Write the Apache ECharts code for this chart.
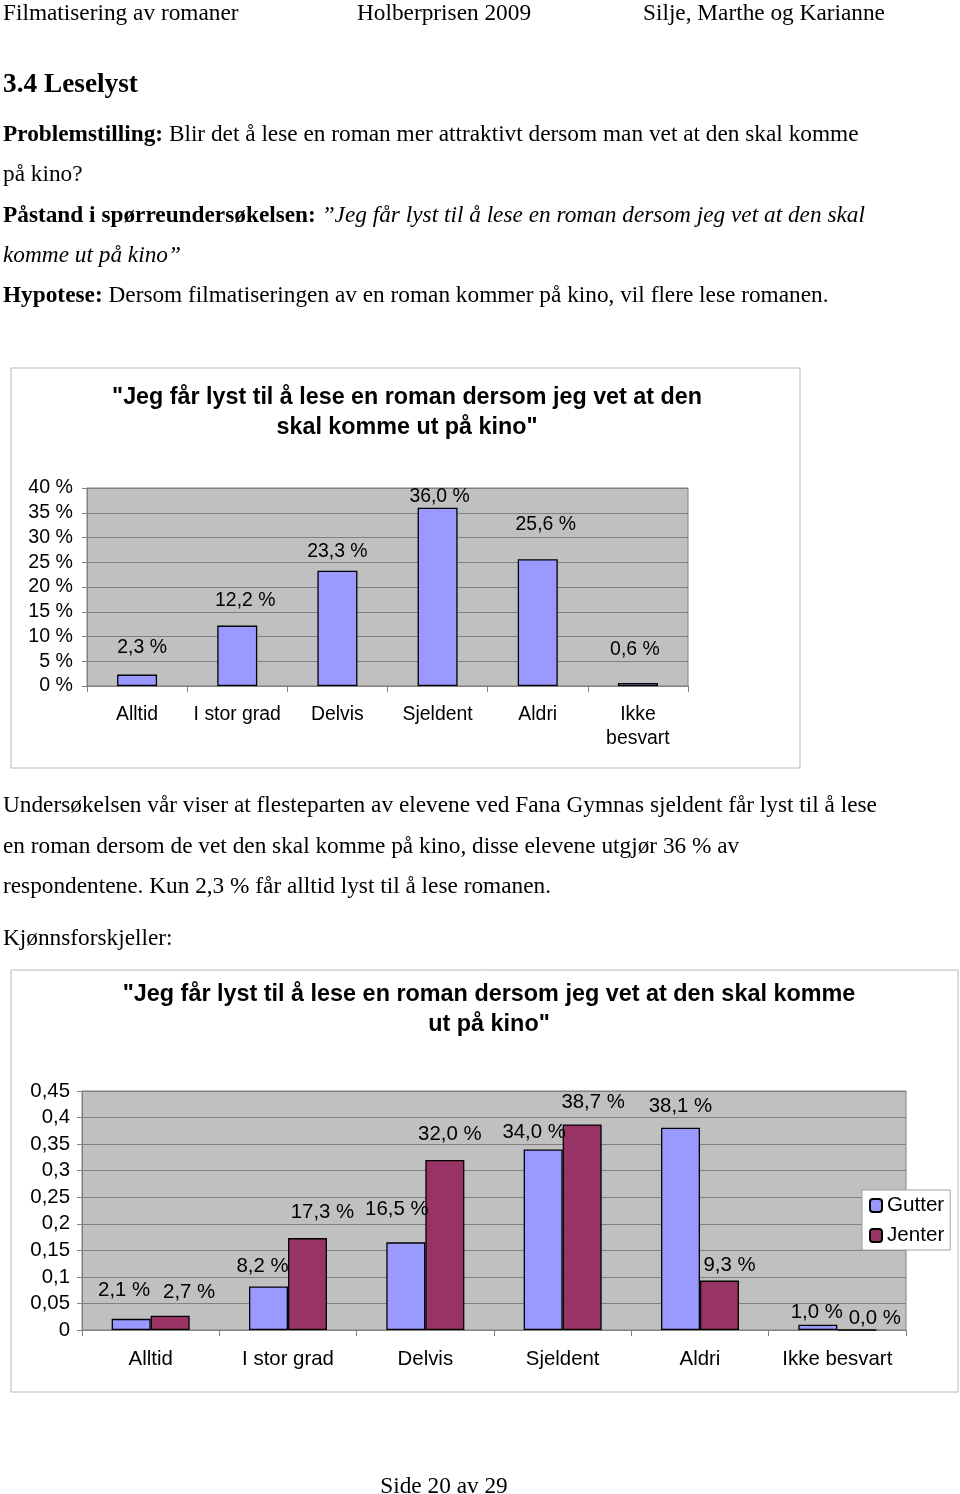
<!DOCTYPE html>
<html><head><meta charset="utf-8">
<script src="https://cdn.jsdelivr.net/npm/echarts@6/dist/echarts.min.js"></script>
<style>html,body{margin:0;padding:0;background:#fff}#c{width:960px;height:1494px}</style>
</head><body><div id="c"></div>
<script>
// ---- data ----
const categories1 = ['Alltid', 'I stor grad', 'Delvis', 'Sjeldent', 'Aldri', 'Ikke\nbesvart'];
const values1 = [2.3, 12.2, 23.3, 36.0, 25.6, 0.6];
const yTicks1 = ['0 %', '5 %', '10 %', '15 %', '20 %', '25 %', '30 %', '35 %', '40 %'];

const categories2 = ['Alltid', 'I stor grad', 'Delvis', 'Sjeldent', 'Aldri', 'Ikke besvart'];
const gutter = [2.1, 8.2, 16.5, 34.0, 38.1, 1.0];
const jenter = [2.7, 17.3, 32.0, 38.7, 9.3, 0.0];
const yTicks2 = ['0', '0,05', '0,1', '0,15', '0,2', '0,25', '0,3', '0,35', '0,4', '0,45'];

// label placement tweaks (style only)
const nudge1 = [[5,-12],[8,-10],[0,-5],[2,3],[8,-20],[-3,-19]];
const nudgeG = [[-7,-13],[-6,-5],[-9,-18],[-9,-2],[0,-6],[-1,3]];
const nudgeJ = [[19,-8],[15,-11],[5,-11],[11,-7],[10,0],[18,4]];

const SERIF = '"Liberation Serif","Times New Roman",serif';
const SANS = '"Liberation Sans",Arial,sans-serif';
const FS = 23.3;
const pct = v => v.toFixed(1).replace('.', ',') + ' %';

function withLabels(vals, nudges) {
  return vals.map((v, i) => ({ value: v, label: { offset: nudges[i] } }));
}

const chart = echarts.init(document.getElementById('c'));

function t(x, y, text, extra) {
  return {
    type: 'text', z: 10,
    style: Object.assign({
      x: x, y: y + 1.5, text: text, fontSize: FS, fontFamily: SERIF, fill: '#000',
      verticalAlign: 'middle',
      rich: {
        b: { fontSize: FS, fontFamily: SERIF, fontWeight: 'bold', fill: '#000' },
        i: { fontSize: FS, fontFamily: SERIF, fontStyle: 'italic', fill: '#000' },
        n: { fontSize: FS, fontFamily: SERIF, fill: '#000' }
      }
    }, extra || {})
  };
}

const label1 = { show: true, position: 'top', distance: 5, fontSize: 19.4, fontFamily: SANS, color: '#000',
  formatter: p => pct(p.value) };
const label2 = Object.assign({}, label1, { fontSize: 20.4 });

const option = {
  animation: false,
  backgroundColor: '#fff',
  title: [
    { text: '"Jeg får lyst til å lese en roman dersom jeg vet at den\nskal komme ut på kino"',
      left: 402, top: 378, textAlign: 'center',
      textStyle: { fontFamily: SANS, fontWeight: 'bold', fontSize: 23.3, lineHeight: 30, color: '#000' } },
    { text: '"Jeg får lyst til å lese en roman dersom jeg vet at den skal komme\nut på kino"',
      left: 484, top: 975, textAlign: 'center',
      textStyle: { fontFamily: SANS, fontWeight: 'bold', fontSize: 23.4, lineHeight: 30, color: '#000' } }
  ],
  legend: {
    data: ['Gutter', 'Jenter'], orient: 'vertical', left: 862, top: 1190,
    backgroundColor: '#fff', borderColor: '#a0a0a0', borderWidth: 1, padding: [5, 6, 4, 7],
    itemWidth: 12, itemHeight: 13, itemGap: 9,
    textStyle: { fontFamily: SANS, fontSize: 20.6, color: '#000', padding: [0, 0, 0, 0] }
  },
  grid: [
    { left: 87, top: 488, width: 601, height: 198, show: true, backgroundColor: '#c0c0c0', borderColor: '#808080', borderWidth: 1 },
    { left: 82, top: 1091, width: 824, height: 239, show: true, backgroundColor: '#c0c0c0', borderColor: '#808080', borderWidth: 1 }
  ],
  xAxis: [
    { type: 'category', gridIndex: 0, data: categories1,
      axisLine: { lineStyle: { color: '#808080', width: 1 } },
      axisTick: { show: true, length: 6, lineStyle: { color: '#808080' } },
      axisLabel: { fontSize: 19.4, fontFamily: SANS, color: '#000', margin: 17, lineHeight: 24, interval: 0 } },
    { type: 'category', gridIndex: 1, data: categories2,
      axisLine: { lineStyle: { color: '#808080', width: 1 } },
      axisTick: { show: true, length: 6, lineStyle: { color: '#808080' } },
      axisLabel: { fontSize: 20.4, fontFamily: SANS, color: '#000', margin: 19, interval: 0 } }
  ],
  yAxis: [
    { type: 'value', gridIndex: 0, min: 0, max: 40, interval: 5,
      axisLine: { show: true, lineStyle: { color: '#808080' } },
      axisTick: { show: true, length: 5, lineStyle: { color: '#808080' } },
      splitLine: { lineStyle: { color: '#808080', width: 1 } },
      axisLabel: { fontSize: 19.6, fontFamily: SANS, color: '#000', margin: 14,
        formatter: v => yTicks1[Math.round(v / 5)] } },
    { type: 'value', gridIndex: 1, min: 0, max: 45, interval: 5,
      axisLine: { show: true, lineStyle: { color: '#808080' } },
      axisTick: { show: true, length: 5, lineStyle: { color: '#808080' } },
      splitLine: { lineStyle: { color: '#808080', width: 1 } },
      axisLabel: { fontSize: 20.4, fontFamily: SANS, color: '#000', margin: 12,
        formatter: v => yTicks2[Math.round(v / 5)] } }
  ],
  series: [
    { name: 'Andel', type: 'bar', xAxisIndex: 0, yAxisIndex: 0, barWidth: 40,
      data: withLabels(values1, nudge1),
      itemStyle: { color: '#9999ff', borderColor: '#000', borderWidth: 1.3 },
      label: label1 },
    { name: 'Gutter', type: 'bar', xAxisIndex: 1, yAxisIndex: 1, barWidth: 39, barGap: '0%',
      data: withLabels(gutter, nudgeG),
      itemStyle: { color: '#9999ff', borderColor: '#000', borderWidth: 1.3 },
      label: label2 },
    { name: 'Jenter', type: 'bar', xAxisIndex: 1, yAxisIndex: 1, barWidth: 39, barGap: '0%',
      data: withLabels(jenter, nudgeJ),
      itemStyle: { color: '#993366', borderColor: '#000', borderWidth: 1.3 },
      label: label2 }
  ],
  graphic: [
    { type: 'rect', z: -1, shape: { x: 11, y: 368, width: 789, height: 400 }, style: { fill: '#fff', stroke: '#b8b8b8', lineWidth: 1 } },
    { type: 'rect', z: -1, shape: { x: 11, y: 970, width: 947, height: 422 }, style: { fill: '#fff', stroke: '#b8b8b8', lineWidth: 1 } },
    t(3, 12, 'Filmatisering av romaner'),
    t(357, 12, 'Holberprisen 2009'),
    t(643, 12, 'Silje, Marthe og Karianne'),
    t(3, 83, '3.4 Leselyst', { fontSize: 27.3, fontWeight: 'bold' }),
    t(3, 133, '{b|Problemstilling:}{n| Blir det å lese en roman mer attraktivt dersom man vet at den skal komme}'),
    t(3, 173, 'på kino?'),
    t(3, 214, '{b|Påstand i spørreundersøkelsen:}{n| }{i|”Jeg får lyst til å lese en roman dersom jeg vet at den skal}'),
    t(3, 254, '{i|komme ut på kino”}'),
    t(3, 294, '{b|Hypotese:}{n| Dersom filmatiseringen av en roman kommer på kino, vil flere lese romanen.}'),
    t(3, 804, 'Undersøkelsen vår viser at flesteparten av elevene ved Fana Gymnas sjeldent får lyst til å lese'),
    t(3, 845, 'en roman dersom de vet den skal komme på kino, disse elevene utgjør 36 % av'),
    t(3, 885, 'respondentene. Kun 2,3 % får alltid lyst til å lese romanen.'),
    t(3, 937, 'Kjønnsforskjeller:'),
    t(444, 1485, 'Side 20 av 29', { align: 'center' })
  ]
};
chart.setOption(option);
</script>
</body></html>
